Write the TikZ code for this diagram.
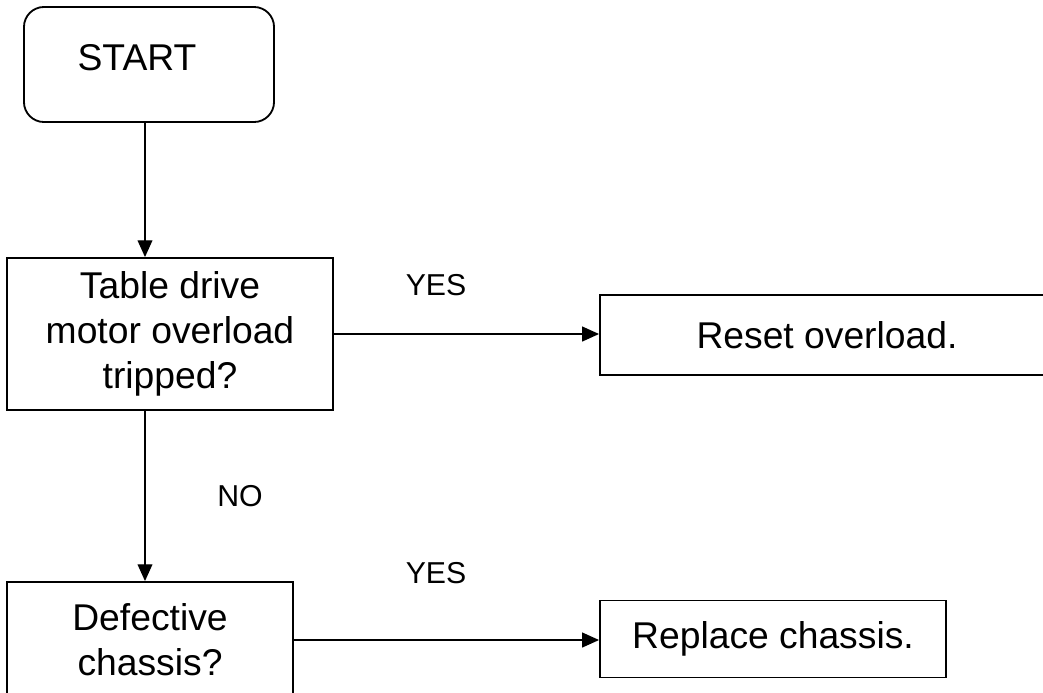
\documentclass[tikz,border=0pt]{standalone}
\usepackage{fontspec}
\setmainfont{Liberation Sans}
\usetikzlibrary{arrows.meta}

\begin{document}
\begin{tikzpicture}[x=0.025cm,y=-0.025cm,
  box/.style={draw,line width=1.3pt,align=center,inner sep=0pt,
    font=\fontsize{26.5}{32}\selectfont},
  lbl/.style={inner sep=0pt,font=\fontsize{21.5}{26}\selectfont},
  arr/.style={line width=1pt,-{Triangle[length=0.42cm,width=0.37cm]}}]
\useasboundingbox (0,0) rectangle (1043,692);
\clip (0,0) rectangle (1043,692);
\node[box,rounded corners=0.5cm,minimum width=6.25cm,minimum height=2.875cm,
  label={[box,draw=none,xshift=-0.3cm,yshift=0.16cm]center:START}] (start) at (149,64.5) {};
\node[box,minimum width=8.15cm,minimum height=3.8cm] (tab) at (170,334)
  {Table drive\\motor overload\\tripped?};
\node[box,minimum width=11.35cm,minimum height=2cm] (reset) at (827,335) {Reset overload.};
\node[box,minimum width=7.15cm,minimum height=2.9cm] (def) at (150,640)
  {Defective\\chassis?};
\node[box,minimum width=8.65cm,minimum height=1.925cm] (repl) at (773,639) {Replace chassis.};
\coordinate (spine) at (145,0);
\draw[arr] (start.south -| spine) -- (tab.north -| spine);
\draw[arr] (tab.east) -- (tab.east -| reset.west);
\node[lbl] (yes1) at (436,285) {YES};
\draw[arr] (tab.south -| spine) -- (def.north -| spine);
\node[lbl] (no) at (240,496) {NO};
\draw[arr] (def.east) -- (def.east -| repl.west);
\node[lbl] (yes2) at (436,573) {YES};
\end{tikzpicture}
\end{document}
